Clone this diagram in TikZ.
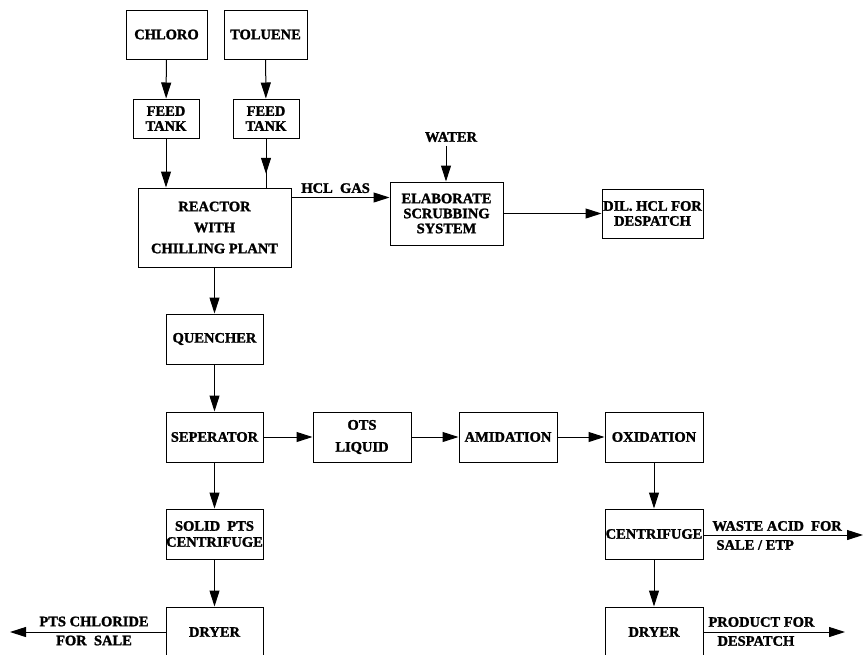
\documentclass[tikz,border=0pt]{standalone}
\usepackage{fontspec}
\setmainfont[BoldFeatures={FakeBold=1.6}]{Liberation Serif}
\usetikzlibrary{arrows.meta,decorations.markings}
\begin{document}
\begin{tikzpicture}[x=1pt,y=-1pt,
  line width=1pt,
  arr/.style={-{Triangle[length=16pt,width=10pt]}},
  box/.style={draw,rectangle,inner sep=0pt,align=center,
    font=\bfseries\fontsize{14.5}{15}\selectfont},
  lbl/.style={inner sep=0pt,align=center,
    font=\bfseries\fontsize{14.5}{19}\selectfont},
]
\useasboundingbox (0,0) rectangle (864,654);
% boxes
\node[box,minimum width=81pt,minimum height=49pt] (chloro) at (166.5,34.5) {CHLORO};
\node[box,minimum width=83pt,minimum height=49pt] (toluene) at (265.5,34.5) {TOLUENE};
\node[box,minimum width=66pt,minimum height=39pt] (feed1) at (166,118.5) {FEED\\TANK};
\node[box,minimum width=66pt,minimum height=39pt] (feed2) at (266,118.5) {FEED\\TANK};
\node[box,minimum width=153pt,minimum height=79pt,font=\bfseries\fontsize{14.5}{21}\selectfont] (reactor) at (214.5,227.5) {REACTOR\\WITH\\CHILLING PLANT};
\node[box,minimum width=113pt,minimum height=63pt] (scrubber) at (446.5,213.5) {ELABORATE\\SCRUBBING\\SYSTEM};
\node[box,minimum width=101pt,minimum height=49pt] (dil) at (652.5,213.5) {DIL. HCL FOR\\DESPATCH};
\node[box,minimum width=97pt,minimum height=50pt] (quencher) at (214.5,339) {QUENCHER};
\node[box,minimum width=97pt,minimum height=50pt] (separator) at (214.5,437) {SEPERATOR};
\node[box,minimum width=98pt,minimum height=50pt,font=\bfseries\fontsize{14.5}{22}\selectfont] (ots) at (362,437) {OTS\\LIQUID};
\node[box,minimum width=98pt,minimum height=50pt] (amidation) at (508,437) {AMIDATION};
\node[box,minimum width=98pt,minimum height=50pt] (oxidation) at (654,437) {OXIDATION};
\node[box,minimum width=97pt,minimum height=50pt,font=\bfseries\fontsize{14.5}{16}\selectfont] (solid) at (214.5,534) {SOLID\ \ PTS\\CENTRIFUGE};
\node[box,minimum width=98pt,minimum height=50pt] (centrifuge) at (654,534) {CENTRIFUGE};
\node[box,minimum width=97pt,minimum height=50pt] (dryer1) at (214.5,632) {DRYER};
\node[box,minimum width=98pt,minimum height=50pt] (dryer2) at (654,632) {DRYER};
% free labels
\node[lbl] (water) at (451,137) {WATER};
\coordinate (waterfrom) at (446,146);
\coordinate (wasteend) at (863,535);
\coordinate (prodend) at (845,632);
\coordinate (ptsend) at (10,632);
% connectors
\draw[arr] (chloro) -- (feed1);
\draw[arr] (toluene) -- (feed2);
\draw[arr] (feed1.south) -- (feed1.south |- reactor.north);
\draw[postaction={decorate},decoration={markings,mark=at position 0.72 with {\arrow{Triangle[length=16pt,width=10pt]}}}]
  (feed2.south) -- (feed2.south |- reactor.north);
\draw[arr] (reactor.south) -- (quencher.north);
\draw[arr] ([yshift=-10pt]reactor.north east) -- ([yshift=-10pt]reactor.north east -| scrubber.west)
  node[pos=0.45,above=4pt,lbl] (hcl) {HCL\ \ GAS};
\draw[arr] (waterfrom) -- (waterfrom |- scrubber.north);
\draw[arr] (scrubber) -- (dil);
\draw[arr] (quencher) -- (separator);
\draw[arr] (separator) -- (solid);
\draw[arr] (solid) -- (dryer1);
\draw[arr] (separator) -- (ots);
\draw[arr] (ots) -- (amidation);
\draw[arr] (amidation) -- (oxidation);
\draw[arr] (oxidation) -- (centrifuge);
\draw[arr] (centrifuge) -- (dryer2);
\draw[arr] (centrifuge.east |- wasteend) -- (wasteend);
\draw[arr] (dryer2.east) -- (prodend);
\draw[arr] (dryer1.west) -- (ptsend);
% arrow labels
\node[lbl] (pts) at (94,631) {PTS CHLORIDE\\FOR\ \ SALE};
\node[lbl,anchor=west] (waste1) at (712,526) {WASTE ACID\ \ FOR};
\node[lbl,anchor=west] (waste2) at (716,545) {SALE / ETP};
\node[lbl,anchor=west] (prod1) at (708,622) {PRODUCT FOR};
\node[lbl,anchor=west] (prod2) at (717,641) {DESPATCH};
\end{tikzpicture}
\end{document}
